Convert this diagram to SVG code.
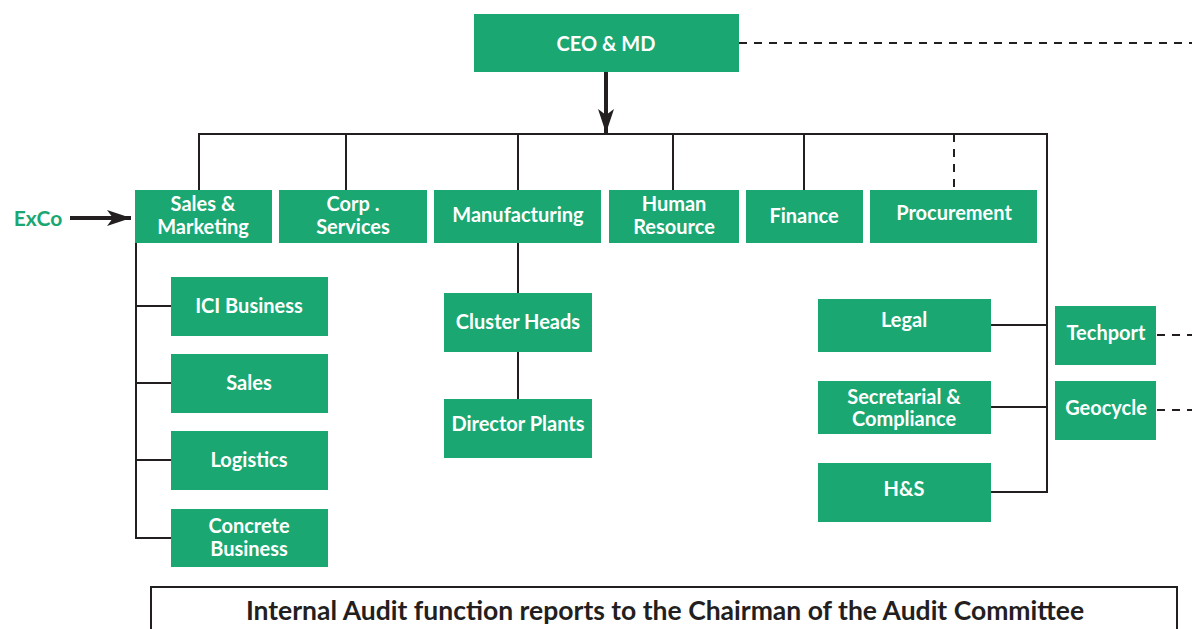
<svg xmlns="http://www.w3.org/2000/svg" width="1192" height="629" viewBox="0 0 1192 629">
<style>
.box{fill:#1aa772}
.t{fill:#fff;font-family:Lato,"Liberation Sans",sans-serif;font-weight:700;font-size:20px;text-anchor:middle;dominant-baseline:central}
.ln{stroke:#231f20;stroke-width:2;fill:none}
.dash{stroke:#231f20;stroke-width:2;fill:none;stroke-dasharray:8 7}
</style>
<defs>
<marker id="ah2" viewBox="0 0 24 16" refX="24" refY="8" markerWidth="24" markerHeight="16" markerUnits="userSpaceOnUse" orient="auto">
<path d="M0,0 L24,8 L0,16 L6,8 Z" fill="#231f20"/>
</marker>
</defs>
<rect x="0" y="0" width="1192" height="629" fill="#fff"/>
<g id="connectors">
<line class="dash" x1="739" y1="43" x2="1192" y2="43"/>
<line x1="606" y1="72" x2="606" y2="133" stroke="#231f20" stroke-width="4" marker-end="url(#ah2)"/>
<polyline class="ln" points="199,190 199,134 1047,134 1047,492 991,492"/>
<line class="ln" x1="346" y1="134" x2="346" y2="190"/>
<line class="ln" x1="518" y1="134" x2="518" y2="190"/>
<line class="ln" x1="673" y1="134" x2="673" y2="190"/>
<line class="ln" x1="804" y1="134" x2="804" y2="190"/>
<line class="dash" x1="954" y1="134" x2="954" y2="190" stroke-dasharray="8 5"/>
<polyline class="ln" points="136,243 136,538 171,538"/>
<line class="ln" x1="136" y1="306" x2="171" y2="306"/>
<line class="ln" x1="136" y1="383" x2="171" y2="383"/>
<line class="ln" x1="136" y1="460" x2="171" y2="460"/>
<line class="ln" x1="518" y1="243" x2="518" y2="293"/>
<line class="ln" x1="518" y1="352" x2="518" y2="399"/>
<line class="ln" x1="991" y1="325" x2="1047" y2="325"/>
<line class="ln" x1="991" y1="407" x2="1047" y2="407"/>
<line class="dash" x1="1157" y1="335" x2="1192" y2="335"/>
<line class="dash" x1="1157" y1="410" x2="1192" y2="410"/>
<line x1="70" y1="218" x2="131" y2="218" stroke="#231f20" stroke-width="4" marker-end="url(#ah2)"/>
</g>
<g id="exco"><text x="38" y="217" class="t" style="fill:#1aa772;font-size:21px">ExCo</text></g>
<g id="ceo"><rect class="box" x="474" y="14" width="265" height="58"/><text class="t" x="606" y="43">CEO &amp; MD</text></g>
<g id="sales-marketing"><rect class="box" x="135" y="190" width="137" height="53"/><text class="t" x="203" y="203">Sales &amp;</text><text class="t" x="203" y="226">Marketing</text></g>
<g id="corp-services"><rect class="box" x="279" y="190" width="148" height="53"/><text class="t" x="353" y="203">Corp .</text><text class="t" x="353" y="226">Services</text></g>
<g id="manufacturing"><rect class="box" x="434" y="190" width="167" height="53"/><text class="t" x="518" y="214">Manufacturing</text></g>
<g id="human-resource"><rect class="box" x="609" y="190" width="130" height="53"/><text class="t" x="674" y="203">Human</text><text class="t" x="674" y="226">Resource</text></g>
<g id="finance"><rect class="box" x="746" y="190" width="117" height="53"/><text class="t" x="804" y="215">Finance</text></g>
<g id="procurement"><rect class="box" x="870" y="190" width="167" height="53"/><text class="t" x="954" y="212">Procurement</text></g>
<g id="ici-business"><rect class="box" x="171" y="277" width="157" height="59"/><text class="t" x="249" y="305">ICI Business</text></g>
<g id="sales"><rect class="box" x="171" y="354" width="157" height="59"/><text class="t" x="249" y="382">Sales</text></g>
<g id="logistics"><rect class="box" x="171" y="431" width="157" height="59"/><text class="t" x="249" y="459">Logistics</text></g>
<g id="concrete-business"><rect class="box" x="171" y="509" width="157" height="58"/><text class="t" x="249" y="525">Concrete</text><text class="t" x="249" y="548">Business</text></g>
<g id="cluster-heads"><rect class="box" x="444" y="293" width="148" height="59"/><text class="t" x="518" y="321">Cluster Heads</text></g>
<g id="director-plants"><rect class="box" x="444" y="399" width="148" height="59"/><text class="t" x="518" y="423">Director Plants</text></g>
<g id="legal"><rect class="box" x="818" y="299" width="173" height="53"/><text class="t" x="904" y="319">Legal</text></g>
<g id="secretarial"><rect class="box" x="818" y="381" width="173" height="53"/><text class="t" x="904" y="396">Secretarial &amp;</text><text class="t" x="904" y="418">Compliance</text></g>
<g id="hs"><rect class="box" x="818" y="463" width="173" height="59"/><text class="t" x="904" y="488">H&amp;S</text></g>
<g id="techport"><rect class="box" x="1055" y="306" width="101" height="59"/><text class="t" x="1106" y="332">Techport</text></g>
<g id="geocycle"><rect class="box" x="1055" y="381" width="101" height="59"/><text class="t" x="1106" y="407">Geocycle</text></g>
<g id="audit-note"><rect x="151" y="587" width="1026" height="60" fill="#fff" stroke="#231f20" stroke-width="2"/><text x="665" y="610" style="font-family:Lato,'Liberation Sans',sans-serif;font-weight:700;font-size:26.5px;fill:#231f20;text-anchor:middle;dominant-baseline:central">Internal Audit function reports to the Chairman of the Audit Committee</text></g>
</svg>
